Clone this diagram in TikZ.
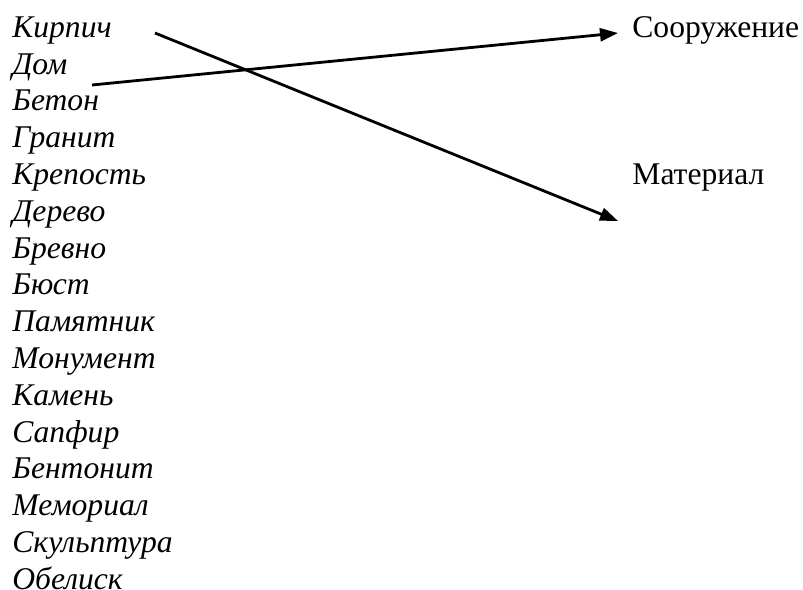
\documentclass[tikz,border=0pt]{standalone}
\usepackage{fontspec}
\setmainfont{Liberation Serif}
\usetikzlibrary{arrows.meta,positioning}

\begin{document}
\begin{tikzpicture}[x = .5pt, y = -.5pt,
    word/.style = {anchor = base west, inner sep = 0pt, font = \fontsize{15.8}{19}\selectfont\itshape},
    group/.style = {anchor = base west, inner sep = 0pt, font = \fontsize{15.8}{19}\selectfont},
    link/.style = {-{Triangle[length = 9pt, width = 6.5pt]}, line width = 1.4pt}]
    \useasboundingbox (0,0) rectangle (803,589);
    % Word list
    \foreach \w [count = \i] in {Кирпич, Дом, Бетон, Гранит, Крепость, Дерево, Бревно, Бюст,
        Памятник, Монумент, Камень, Сапфир, Бентонит, Мемориал, Скульптура, Обелиск}
        \node[word] (w\i) at (12, {37.3 + (\i - 1) * 36.8}) {\w};
    % Groups
    \node[group] (soor) at (632, 37.3) {Сооружение};
    \node[group] (mat) at (632, 184.5) {Материал};
    % Connectors
    \coordinate (kstart) at (155, 33);
    \coordinate (dstart) at (92, 85);
    \coordinate (kend) at (618, 221);
    \coordinate (dend) at (618, 33);
    \draw[link] (kstart) -- (kend);
    \draw[link] (dstart) -- (dend);
\end{tikzpicture}
\end{document}
